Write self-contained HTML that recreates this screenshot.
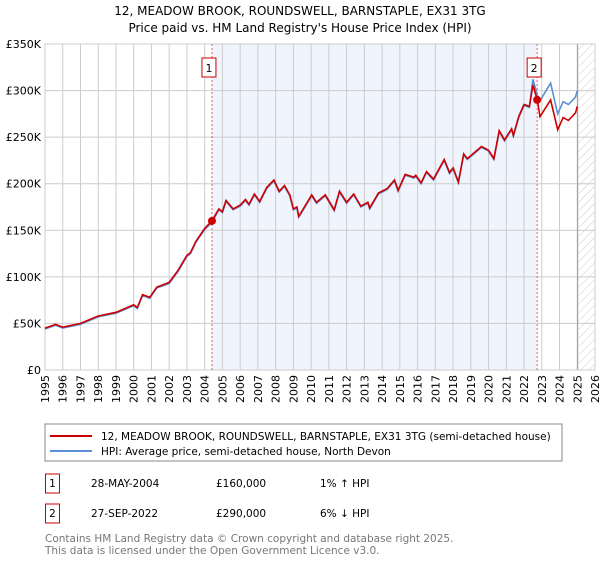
<!DOCTYPE html>
<html><head><meta charset="utf-8"><style>
body{margin:0;background:#fff;font-family:"DejaVu Sans","Liberation Sans",sans-serif;}
svg text{font-family:"DejaVu Sans","Liberation Sans",sans-serif;}
</style></head><body>
<svg id="c" width="600" height="560" xmlns="http://www.w3.org/2000/svg">
<defs><pattern id="hatch" width="6" height="6" patternUnits="userSpaceOnUse" patternTransform="rotate(45)"><line x1="0" y1="0" x2="0" y2="6" stroke="#ccc" stroke-width="1"/></pattern></defs>
<text x="300" y="15" text-anchor="middle" font-size="12" fill="#000">12, MEADOW BROOK, ROUNDSWELL, BARNSTAPLE, EX31 3TG</text>
<text x="300" y="32" text-anchor="middle" font-size="12" fill="#000">Price paid vs. HM Land Registry's House Price Index (HPI)</text>
<g id="plot"></g>
<rect x="45" y="424" width="517" height="37" fill="none" stroke="#888"/>
<line x1="50" y1="436" x2="92" y2="436" stroke="#cc0000" stroke-width="2"/>
<text x="101" y="440" font-size="10.5">12, MEADOW BROOK, ROUNDSWELL, BARNSTAPLE, EX31 3TG (semi-detached house)</text>
<line x1="50" y1="451" x2="92" y2="451" stroke="#5b8fd6" stroke-width="2"/>
<text x="101" y="455" font-size="10.5">HPI: Average price, semi-detached house, North Devon</text>
<g font-size="10.5">
<rect x="45.5" y="474" width="14" height="19" fill="#fff" stroke="#cc0000"/>
<text x="52.5" y="487" text-anchor="middle">1</text>
<text x="91" y="487">28-MAY-2004</text><text x="216" y="487">£160,000</text><text x="320" y="487">1% ↑ HPI</text>
<rect x="45.5" y="504" width="14" height="19" fill="#fff" stroke="#cc0000"/>
<text x="52.5" y="517" text-anchor="middle">2</text>
<text x="91" y="517">27-SEP-2022</text><text x="216" y="517">£290,000</text><text x="320" y="517">6% ↓ HPI</text>
</g>
<text x="45" y="542" font-size="10.5" fill="#777">Contains HM Land Registry data © Crown copyright and database right 2025.</text>
<text x="45" y="554" font-size="10.5" fill="#777">This data is licensed under the Open Government Licence v3.0.</text>
</svg>
<script>
const years=[1995.0,1995.6,1996.0,1997.0,1998.0,1999.0,2000.0,2000.2,2000.5,2000.9,2001.3,2002.0,2002.5,2003.0,2003.2,2003.5,2004.0,2004.4,2004.8,2005.0,2005.2,2005.6,2006.0,2006.3,2006.5,2006.8,2007.1,2007.5,2007.9,2008.2,2008.5,2008.8,2009.0,2009.2,2009.3,2009.4,2010.03,2010.3,2010.8,2011.3,2011.6,2012.0,2012.4,2012.8,2013.2,2013.3,2013.8,2014.3,2014.7,2014.9,2015.3,2015.8,2015.9,2016.2,2016.5,2016.9,2017.5,2017.8,2018.0,2018.3,2018.6,2018.8,2019.6,2020.0,2020.3,2020.6,2020.9,2021.3,2021.4,2021.7,2022.0,2022.3,2022.5,2022.75,2022.9,2023.5,2023.9,2024.2,2024.5,2024.9,2025.0];
const hpi=[44,48,45,49,57,61,69,66,80,77,88,93,106,122,125,137,151,158,172,169,181,172,176,182,177,188,180,195,203,191,197,187,172,174,164,167,187,179,187,171,191,179,188,175,179,173,189,194,203,192,209,206,208,200,212,204,225,211,216,201,231,226,239,235,226,256,246,258,251,271,284,282,312,295,289,308,275,288,285,293,300];
const price=[45,49,46,50,58,62,70,67,81,78,89,94,107,123,126,138,152,160,173,170,182,173,177,183,178,189,181,196,204,192,198,188,173,175,165,168,188,180,188,172,192,180,189,176,180,174,190,195,204,193,210,207,209,201,213,205,226,212,217,202,232,227,240,236,227,257,247,259,252,272,285,283,306,290,272,290,258,271,268,276,283];
const yTicks=[0,50,100,150,200,250,300,350];
const yLabels=['£0','£50K','£100K','£150K','£200K','£250K','£300K','£350K'];
const xTicks=[1995,1996,1997,1998,1999,2000,2001,2002,2003,2004,2005,2006,2007,2008,2009,2010,2011,2012,2013,2014,2015,2016,2017,2018,2019,2020,2021,2022,2023,2024,2025,2026];
const sales=[2004.41,2022.74];
const saleValues=[160,290];
const saleLabels=['1','2'];
const dataEnd=2025.08;
const X0=45,X1=595,Y0=370,Y1=44,xMin=1995,xMax=2026,yMax=350;
const sx=v=>X0+(v-xMin)/(xMax-xMin)*(X1-X0);
const sy=v=>Y0-v/yMax*(Y0-Y1);
const NS='http://www.w3.org/2000/svg';
const g=document.getElementById('plot');
function mk(t,a,p){const e=document.createElementNS(NS,t);for(const k in a)e.setAttribute(k,a[k]);(p||g).appendChild(e);return e;}
let e;
e=mk('rect',{x:sx(sales[0]),y:Y1,width:sx(sales[1])-sx(sales[0]),height:Y0-Y1,fill:'#f0f4fc'});


e=mk('rect',{x:sx(dataEnd),y:Y1,width:X1-sx(dataEnd),height:Y0-Y1,fill:'url(#hatch)'});


xTicks.forEach(t=>{
 e=mk('line',{x1:sx(t),y1:Y1,x2:sx(t),y2:Y0,stroke:'#ccc'});
 
 
 e=mk('text',{x:0,y:0,'font-size':11,'text-anchor':'end',transform:`translate(${sx(t)+4},${Y0+5}) rotate(-90)`});
 e.textContent=t;
 
 
});
yTicks.forEach((t,i)=>{
 e=mk('line',{x1:X0,y1:sy(t),x2:X1,y2:sy(t),stroke:'#ccc'});
 
 
 e=mk('text',{x:X0-4,y:sy(t)+4,'font-size':11,'text-anchor':'end'});
 e.textContent=yLabels[i];
 
 
});
e=mk('line',{x1:sx(dataEnd)-1,y1:Y1,x2:sx(dataEnd)-1,y2:Y0,stroke:'#999'});


e=mk('rect',{x:X0,y:Y1,width:X1-X0,height:Y0-Y1,fill:'none',stroke:'#ccc'});


const path=arr=>arr.map((v,i)=>(i?'L':'M')+sx(years[i]).toFixed(1)+','+sy(v).toFixed(1)).join('');
e=mk('path',{d:path(hpi),fill:'none',stroke:'#5b8fd6','stroke-width':1.6});


e=mk('path',{d:path(price),fill:'none',stroke:'#cc0000','stroke-width':1.6});


sales.forEach((s,i)=>{
 e=mk('line',{x1:sx(s),y1:Y1,x2:sx(s),y2:Y0,stroke:'#e06060','stroke-dasharray':'2,2'});
 
 
 e=mk('circle',{cx:sx(s),cy:sy(saleValues[i]),r:4,fill:'#cc0000'});
 
 
 e=mk('rect',{x:sx(s)-10,y:58,width:14,height:19,fill:'#fff',stroke:'#cc0000'});
 
 
 e=mk('text',{x:sx(s)-3,y:72,'font-size':11,'text-anchor':'middle'});
 e.textContent=saleLabels[i];
 
 
});
</script>
</body></html>
